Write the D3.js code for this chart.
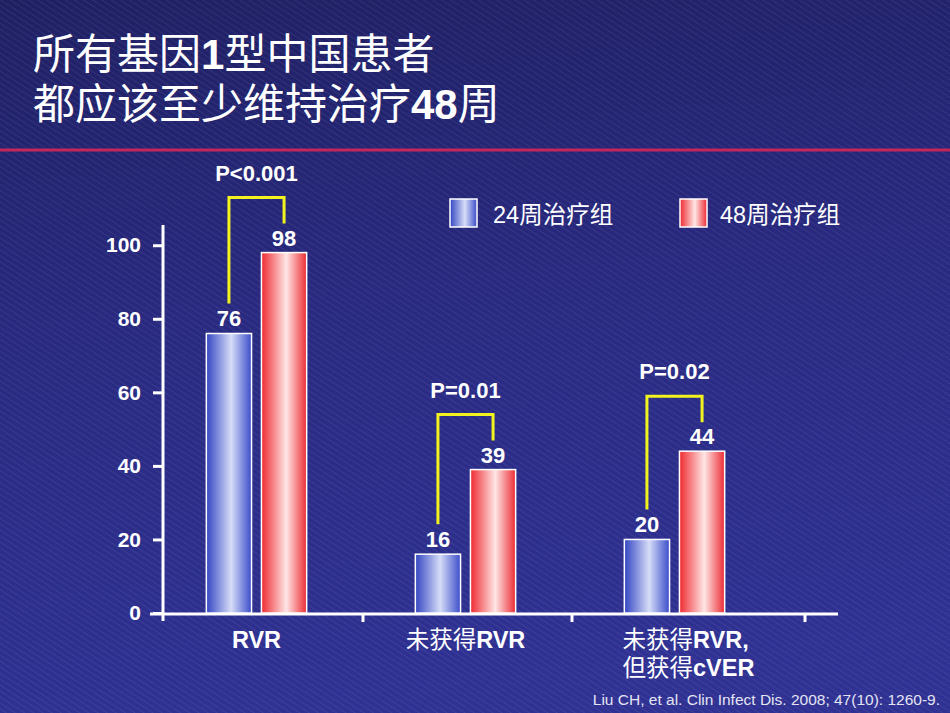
<!DOCTYPE html>
<html>
<head>
<meta charset="utf-8">
<script src="https://cdn.jsdelivr.net/npm/d3@7"></script>
<style>
  html, body { margin: 0; padding: 0; background: #24256e; }
  svg { display: block; }
  text { font-family: "Liberation Sans", "Noto Sans CJK SC", sans-serif; fill: #fff; }
</style>
</head>
<body>
<svg width="950" height="713"></svg>
<script>
// chart values
const categories = [["RVR"], ["未获得RVR"], ["未获得RVR,", "但获得cVER"]];
const series = ["24周治疗组", "48周治疗组"];
const values24 = [76, 16, 20];
const values48 = [98, 39, 44];
const pValues = ["P<0.001", "P=0.01", "P=0.02"];
const yTicks = [0, 20, 40, 60, 80, 100];

const svg = d3.select("svg");
const W = 950, H = 713;
const defs = svg.append("defs");

// background: dark navy with fine diagonal stripes
const bg = defs.append("linearGradient").attr("id", "bg")
  .attr("x1", 0).attr("y1", 0).attr("x2", 0.15).attr("y2", 1);
bg.append("stop").attr("offset", "0%").attr("stop-color", "#1f2063");
bg.append("stop").attr("offset", "45%").attr("stop-color", "#28297f");
bg.append("stop").attr("offset", "100%").attr("stop-color", "#2f3193");

const stripes = defs.append("pattern").attr("id", "stripes")
  .attr("patternUnits", "userSpaceOnUse")
  .attr("width", 5).attr("height", 5)
  .attr("patternTransform", "rotate(-57)");
stripes.append("rect").attr("width", 1).attr("height", 5)
  .attr("fill", "#ffffff").attr("opacity", 0.07);

svg.append("rect").attr("width", W).attr("height", H).attr("fill", "url(#bg)");
svg.append("rect").attr("width", W).attr("height", H).attr("fill", "url(#stripes)");

// bar gradients
function barGradient(id, edgeL, mid, edgeR) {
  const g = defs.append("linearGradient").attr("id", id)
    .attr("x1", 0).attr("y1", 0).attr("x2", 1).attr("y2", 0);
  g.append("stop").attr("offset", "0%").attr("stop-color", edgeL);
  g.append("stop").attr("offset", "55%").attr("stop-color", mid);
  g.append("stop").attr("offset", "100%").attr("stop-color", edgeR);
}
barGradient("gBlue", "#3345c2", "#d6ddf8", "#3b4cc9");
barGradient("gRed", "#ee2a30", "#ffe6e6", "#ec2c34");
const fills = ["url(#gBlue)", "url(#gRed)"];

// title
const title = svg.append("g");
const t1 = title.append("text").attr("x", 33).attr("y", 69).attr("font-size", 42);
t1.append("tspan").text("所有基因");
t1.append("tspan").attr("font-weight", "bold").text("1");
t1.append("tspan").text("型中国患者");
const t2 = title.append("text").attr("x", 33).attr("y", 119).attr("font-size", 42);
t2.append("tspan").text("都应该至少维持治疗");
t2.append("tspan").attr("font-weight", "bold").text("48");
t2.append("tspan").text("周");

svg.append("line").attr("x1", 0).attr("x2", W).attr("y1", 150).attr("y2", 150)
  .attr("stroke", "#c3265a").attr("stroke-width", 3);

// scales
const y = d3.scaleLinear().domain([0, 105.5]).range([613, 225]);
const x0 = d3.scaleBand().domain(d3.range(categories.length))
  .range([152, 779]).paddingInner(0.52).paddingOuter(0.26);
const x1 = d3.scaleBand().domain(d3.range(series.length))
  .range([0, x0.bandwidth()]).paddingInner(0.18);

// y axis
const yAxis = svg.append("g").attr("transform", "translate(163,0)")
  .call(d3.axisLeft(y).tickValues(yTicks).tickSize(10).tickPadding(12));
yAxis.select(".domain").remove();
yAxis.selectAll(".tick line").attr("stroke", "#fff").attr("stroke-width", 3);
yAxis.selectAll(".tick text")
  .attr("fill", "#fff").attr("font-size", 21).attr("font-weight", "bold")
  .attr("font-family", "Liberation Sans, sans-serif");
svg.append("line").attr("x1", 163).attr("x2", 163).attr("y1", 225).attr("y2", 621)
  .attr("stroke", "#fff").attr("stroke-width", 3);

// x axis
svg.append("line").attr("x1", 150).attr("x2", 838).attr("y1", 614).attr("y2", 614)
  .attr("stroke", "#fff").attr("stroke-width", 3);
svg.append("g").selectAll("line")
  .data(d3.range(1, categories.length + 1))
  .join("line")
  .attr("x1", (i) => x0.range()[0] + i * x0.step() + 2 + (i === 3 ? 24 : 0))
  .attr("x2", (i) => x0.range()[0] + i * x0.step() + 2 + (i === 3 ? 24 : 0))
  .attr("y1", 614).attr("y2", 622)
  .attr("stroke", "#fff").attr("stroke-width", 3);

// bars
const rows = categories.map((c, i) => ({ i, vals: [values24[i], values48[i]] }));
const groups = svg.append("g").selectAll("g")
  .data(rows)
  .join("g")
  .attr("transform", (d) => `translate(${x0(d.i)},0)`);

groups.selectAll("rect")
  .data((d) => d.vals.map((v, s) => ({ v, s })))
  .join("rect")
  .attr("x", (d) => x1(d.s))
  .attr("width", x1.bandwidth())
  .attr("y", (d) => y(d.v))
  .attr("height", (d) => y(0) - y(d.v))
  .attr("fill", (d) => fills[d.s])
  .attr("stroke", "#fff").attr("stroke-width", 1.5);

groups.selectAll("text.val")
  .data((d) => d.vals.map((v, s) => ({ v, s })))
  .join("text")
  .attr("class", "val")
  .attr("x", (d) => x1(d.s) + x1.bandwidth() / 2)
  .attr("y", (d) => y(d.v) - 7)
  .attr("text-anchor", "middle")
  .attr("font-size", 22).attr("font-weight", "bold")
  .text((d) => d.v);

// significance brackets
const cx = (s) => x1(s) + x1.bandwidth() / 2;
groups.append("path")
  .attr("d", (d) => {
    const top = y(d.vals[1]) - 7 - 48;
    const lb = y(d.vals[0]) - 7 - 23;
    const rb = y(d.vals[1]) - 7 - 22;
    return `M${cx(0)},${lb}V${top}H${cx(1)}V${rb}`;
  })
  .attr("fill", "none").attr("stroke", "#f2f21e").attr("stroke-width", 3);

groups.append("text")
  .attr("x", (d) => (cx(0) + cx(1)) / 2)
  .attr("y", (d) => y(d.vals[1]) - 7 - 48 - 17)
  .attr("text-anchor", "middle")
  .attr("font-size", 22).attr("font-weight", "bold")
  .text((d) => pValues[d.i]);

// category labels (CJK regular, latin bold)
const catLabels = svg.append("g").selectAll("text")
  .data(rows)
  .join("text")
  .attr("font-size", 23.5)
  .attr("text-anchor", (d) => (categories[d.i].length > 1 ? "start" : "middle"))
  .attr("x", (d) => x0(d.i) + x0.bandwidth() / 2 - (categories[d.i].length > 1 ? 52 : 0));

catLabels.each(function (d) {
  const el = d3.select(this);
  categories[d.i].forEach((line, li) => {
    const parts = line.match(/[\u4e00-\u9fff]+|[^\u4e00-\u9fff]+/g);
    parts.forEach((p, pi) => {
      const ts = el.append("tspan").text(p);
      if (pi === 0) ts.attr("x", el.attr("x")).attr("y", 648 + li * 28);
      if (!/[\u4e00-\u9fff]/.test(p)) ts.attr("font-weight", "bold");
    });
  });
});

// legend
const legend = svg.append("g").selectAll("g")
  .data(series)
  .join("g")
  .attr("transform", (d, i) => `translate(${450 + i * 230},199)`);
legend.append("rect")
  .attr("width", 27).attr("height", 28)
  .attr("fill", (d, i) => fills[i])
  .attr("stroke", "#fff").attr("stroke-width", 1.5);
legend.append("text")
  .attr("x", (d, i) => (i === 0 ? 43 : 40))
  .attr("y", 24)
  .attr("font-size", 23.5)
  .text((d) => d);

// source
svg.append("text")
  .attr("x", 940).attr("y", 705)
  .attr("text-anchor", "end")
  .attr("font-size", 15.5)
  .style("fill", "#e4e4f2")
  .text("Liu CH, et al. Clin Infect Dis. 2008; 47(10): 1260-9.");
</script>
</body>
</html>
